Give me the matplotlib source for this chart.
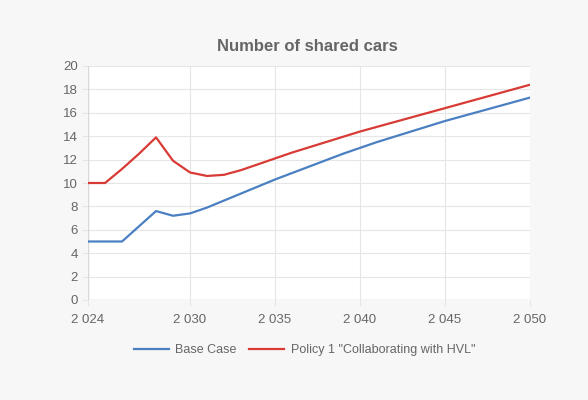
import matplotlib.pyplot as plt
from matplotlib.ticker import FuncFormatter

plt.rcParams['font.family'] = ['Liberation Sans', 'DejaVu Sans']

years = list(range(2024, 2051))
base_case = [5.0, 5.0, 5.0, 6.3, 7.6, 7.2, 7.4, 7.9, 8.5, 9.1, 9.7, 10.3, 10.85, 11.4,
             11.95, 12.5, 13.0, 13.5, 13.95, 14.4, 14.85, 15.3, 15.7, 16.1, 16.5, 16.9, 17.3]
policy_1 = [10.0, 10.0, 11.2, 12.5, 13.9, 11.9, 10.9, 10.6, 10.7, 11.1, 11.6, 12.1, 12.6, 13.05,
            13.5, 13.95, 14.4, 14.8, 15.2, 15.6, 16.0, 16.4, 16.8, 17.2, 17.6, 18.0, 18.4]
x_ticks = [2024, 2030, 2035, 2040, 2045, 2050]
y_ticks = [0, 2, 4, 6, 8, 10, 12, 14, 16, 18, 20]

text_color = '#666666'
grid_color = '#e6e6e6'

fig = plt.figure(figsize=(5.88, 4), dpi=100, facecolor='#f7f7f7')
ax = fig.add_axes([0.1497, 0.25, 0.7517, 0.585])
ax.set_facecolor('white')

ax.plot(years, base_case, color='#4a80c2', lw=1.6, label='Base Case')
ax.plot(years, policy_1, color='#d83b35', lw=1.6, label='Policy 1 "Collaborating with HVL"')

ax.set_xlim(2024, 2050)
ax.set_ylim(0, 20)
ax.set_xticks(x_ticks)
ax.set_yticks(y_ticks)
ax.xaxis.set_major_formatter(FuncFormatter(lambda v, p: f'{int(v):,}'.replace(',', ' ')))
ax.grid(True, color=grid_color, lw=0.8)
ax.set_axisbelow(True)
for s in ax.spines.values():
    s.set_visible(False)
ax.axvline(2024, color='#d9d9d9', lw=1, zorder=1)
ax.axhline(0, color='#d9d9d9', lw=1, zorder=1)
ax.tick_params(colors=text_color, labelsize=9.5, length=4, color=grid_color)
ax.tick_params(axis='x', pad=6)

fig.text(0.523, 0.883, 'Number of shared cars', ha='center', va='center',
         fontsize=12, fontweight='bold', color=text_color)

leg = ax.legend(loc='upper center', bbox_to_anchor=(0.49, -0.14), ncol=2, frameon=False,
                fontsize=9, handlelength=2.8, columnspacing=1.0, handletextpad=0.5)
for t in leg.get_texts():
    t.set_color(text_color)

fig.savefig('out.png', dpi=100, facecolor=fig.get_facecolor())
